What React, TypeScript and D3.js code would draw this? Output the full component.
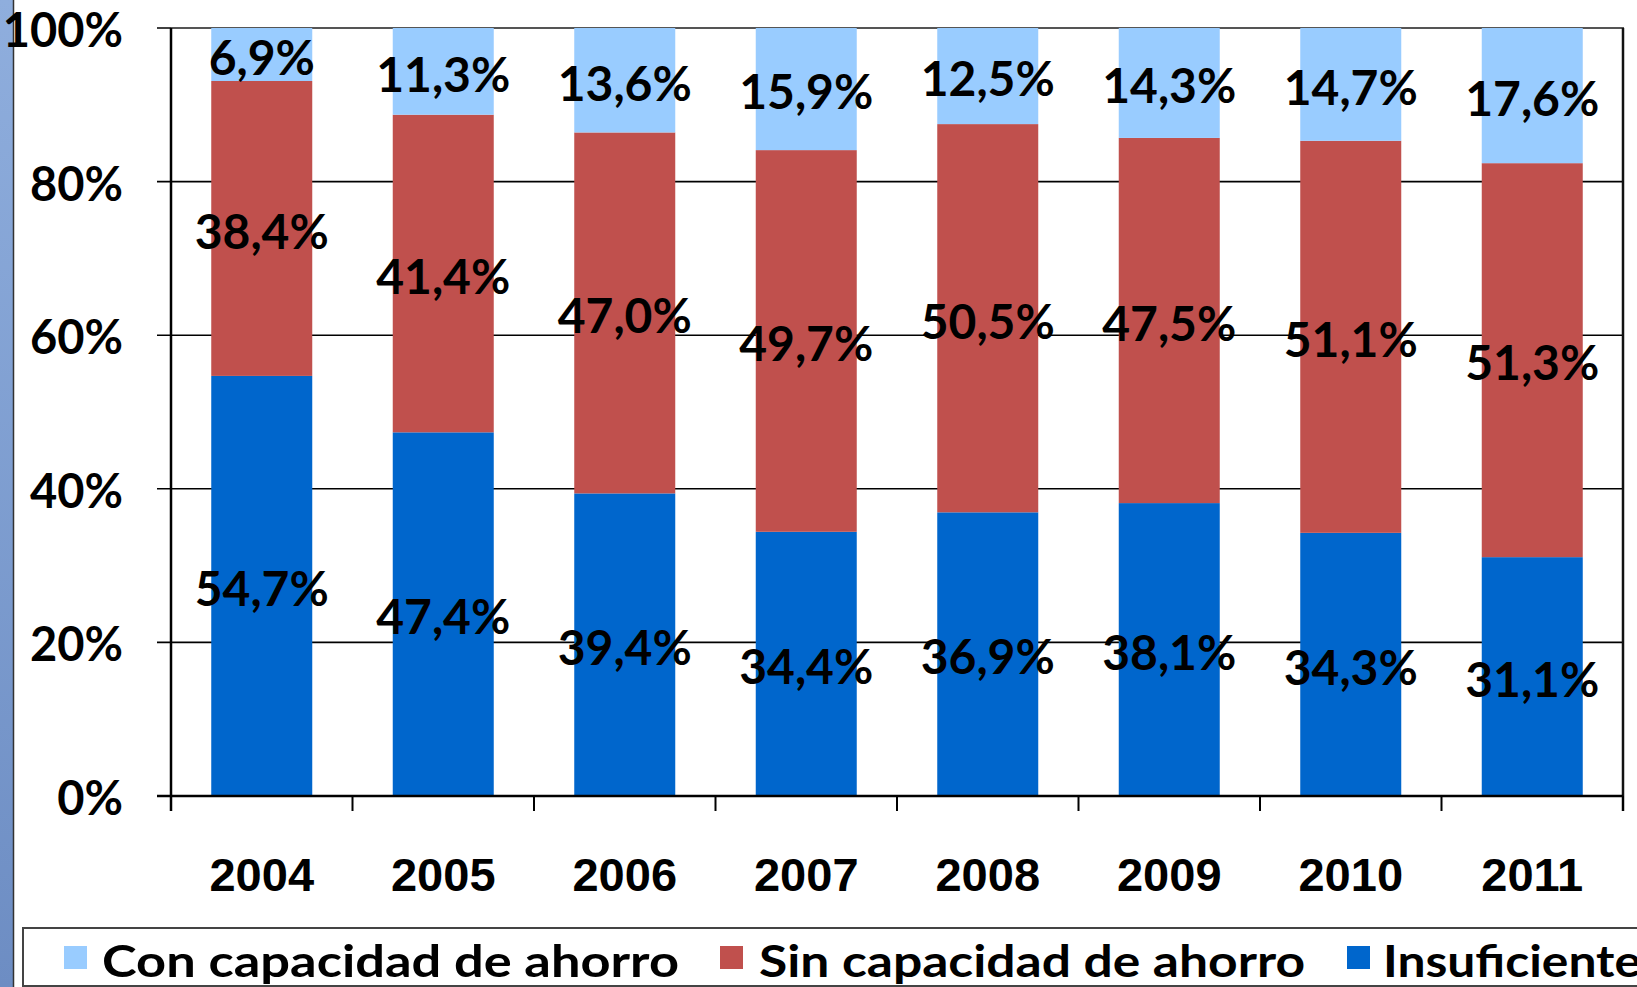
import React from "react";
import * as d3 from "d3";

const years = ["2004", "2005", "2006", "2007", "2008", "2009", "2010", "2011"];
const insuficiente = [54.7, 47.4, 39.4, 34.4, 36.9, 38.1, 34.3, 31.1];
const sinCapacidad = [38.4, 41.4, 47.0, 49.7, 50.5, 47.5, 51.1, 51.3];
const conCapacidad = [6.9, 11.3, 13.6, 15.9, 12.5, 14.3, 14.7, 17.6];
const yTicks = [0, 20, 40, 60, 80, 100];
const seriesNames = ["Con capacidad de ahorro", "Sin capacidad de ahorro", "Insuficiente"];

const COLORS: Record<string, string> = {
  insuficiente: "#0066CC",
  sin: "#C0504D",
  con: "#99CCFF",
};

const W = 1637;
const H = 987;
const left = 171;
const right = 1623;
const top = 28;
const bottom = 796;

export default function App() {
  const rows = years.map((y, i) => ({
    year: y,
    insuficiente: insuficiente[i],
    sin: sinCapacidad[i],
    con: conCapacidad[i],
  }));
  const keys = ["insuficiente", "sin", "con"];
  const stacked = d3.stack<any>().keys(keys).offset(d3.stackOffsetExpand)(rows);
  const rawVals: Record<string, number[]> = {
    insuficiente,
    sin: sinCapacidad,
    con: conCapacidad,
  };

  const pI = 1 - 101 / 181.5;
  const x = d3.scaleBand<string>().domain(years).range([left, right]).paddingInner(pI).paddingOuter(pI / 2);
  const y = d3.scaleLinear().domain([0, 1]).range([bottom, top]);
  const yPct = d3.scaleLinear().domain([0, 100]).range([bottom, top]);
  const step = x.step();

  const fmt = (v: number) => v.toFixed(1).replace(".", ",") + "%";
  const pctFont = "Lato, 'DejaVu Sans', sans-serif";

  const legendItems = [
    { name: seriesNames[0], color: COLORS.con, sx: 64, tx: 102, tw: 577 },
    { name: seriesNames[1], color: COLORS.sin, sx: 720, tx: 759, tw: 546 },
    { name: seriesNames[2], color: COLORS.insuficiente, sx: 1347, tx: 1383, tw: 258 },
  ];

  return (
    <svg width={W} height={H} style={{ position: "absolute", left: 0, top: 0, background: "#fff" }}>
      <defs>
        <linearGradient id="strip" x1="0" y1="0" x2="0" y2="1">
          <stop offset="0" stopColor="#8FAEDD" />
          <stop offset="1" stopColor="#6D8DC3" />
        </linearGradient>
      </defs>
      <rect x={0} y={0} width={13} height={H} fill="url(#strip)" />
      <line x1={13.5} x2={13.5} y1={0} y2={H} stroke="#333" strokeWidth={1.5} />

      {/* gridlines */}
      {yTicks.map((t) => (
        <line key={"g" + t} x1={left - 14} x2={right} y1={yPct(t)} y2={yPct(t)} stroke="#000" strokeWidth={1.6} />
      ))}
      {/* plot border top/right */}
      <line x1={left} x2={right + 1} y1={top} y2={top} stroke="#555" strokeWidth={2} />
      <line x1={right} x2={right} y1={top} y2={bottom + 15} stroke="#111" strokeWidth={2.5} />

      {/* bars */}
      {stacked.map((s) => (
        <g key={s.key} fill={COLORS[s.key]}>
          {s.map((d: any, i: number) => (
            <rect
              key={i}
              x={x(years[i])}
              y={y(d[1])}
              width={x.bandwidth()}
              height={y(d[0]) - y(d[1])}
            />
          ))}
        </g>
      ))}

      {/* axes */}
      <line x1={left} x2={left} y1={top} y2={bottom + 15} stroke="#000" strokeWidth={2.5} />
      <line x1={left - 14} x2={right} y1={bottom} y2={bottom} stroke="#000" strokeWidth={2.5} />
      {d3.range(years.length + 1).map((i) => (
        <line
          key={"xt" + i}
          x1={left + i * step}
          x2={left + i * step}
          y1={bottom}
          y2={bottom + 15}
          stroke="#000"
          strokeWidth={2}
        />
      ))}

      {/* y labels */}
      {yTicks.map((t) => (
        <text
          key={"yl" + t}
          x={123}
          y={yPct(t) + 7}
          textAnchor="end"
          dominantBaseline="middle"
          fontFamily={pctFont}
          fontWeight={700}
          fontSize={47}
          fill="#000"
        >
          {t + "%"}
        </text>
      ))}

      {/* x labels */}
      {years.map((yr) => (
        <text
          key={"xl" + yr}
          x={x(yr)! + x.bandwidth() / 2}
          y={891}
          textAnchor="middle"
          fontFamily="'Liberation Sans', Arial, sans-serif"
          fontWeight={700}
          fontSize={47}
          fill="#000"
        >
          {yr}
        </text>
      ))}

      {/* value labels */}
      {stacked.map((s) =>
        s.map((d: any, i: number) => (
          <text
            key={s.key + "l" + i}
            x={x(years[i])! + x.bandwidth() / 2}
            y={(y(d[0]) + y(d[1])) / 2 + 8}
            textAnchor="middle"
            dominantBaseline="middle"
            fontFamily={pctFont}
            fontWeight={700}
            fontSize={48}
            fill="#000"
          >
            {fmt(rawVals[s.key][i])}
          </text>
        ))
      )}

      {/* legend */}
      <rect x={23} y={928} width={1700} height={58} fill="#fff" stroke="#444" strokeWidth={2} />
      {legendItems.map((it) => (
        <g key={it.name}>
          <rect x={it.sx} y={946} width={23} height={23} fill={it.color} />
          <text
            x={it.tx}
            y={977}
            fontFamily={pctFont}
            fontWeight={700}
            fontSize={44}
            fill="#000"
            textLength={it.tw}
            lengthAdjust="spacingAndGlyphs"
          >
            {it.name}
          </text>
        </g>
      ))}
    </svg>
  );
}
